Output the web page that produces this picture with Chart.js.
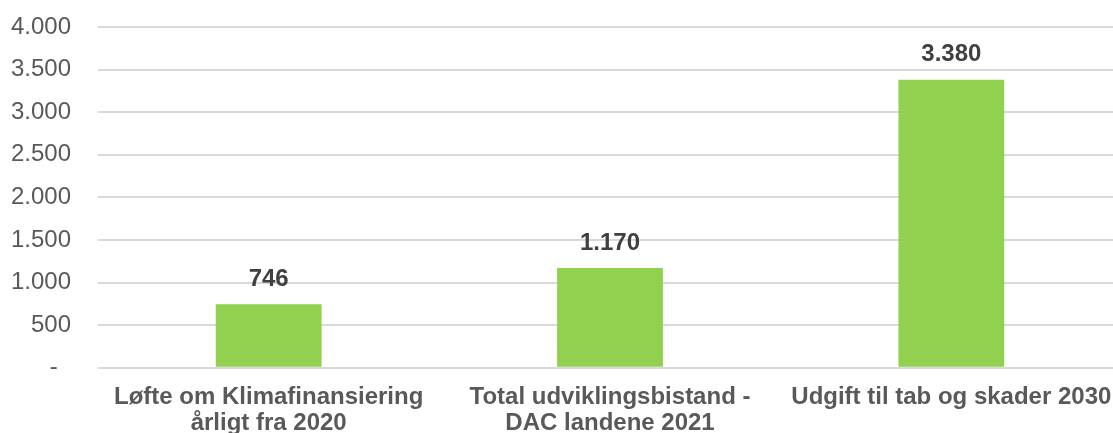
<!DOCTYPE html>
<html>
<head>
<meta charset="utf-8">
<script src="https://cdn.jsdelivr.net/npm/chart.js@4"></script>
<style>
html,body{margin:0;padding:0;background:#fff;overflow:hidden;}
#wrap{position:relative;width:1122px;height:433px;}
</style>
</head>
<body>
<div id="wrap"><canvas id="chart"></canvas></div>
<script>
// categories and values (mio. USD)
var categories = [
    ['Løfte om Klimafinansiering', 'årligt fra 2020'],
    ['Total udviklingsbistand -', 'DAC landene 2021'],
    'Udgift til tab og skader 2030'
];
var values = [746, 1170, 3380];
var valueLabels = ['746', '1.170', '3.380'];
var tickValues = [0, 500, 1000, 1500, 2000, 2500, 3000, 3500, 4000];
var tickLabels = ['-  ', '500', '1.000', '1.500', '2.000', '2.500', '3.000', '3.500', '4.000'];

var fontFamily = '"Liberation Sans", Arial, sans-serif';

// draws the numbers above the bars
var barLabels = {
    id: 'barLabels',
    afterDatasetsDraw: function(chart){
        var ctx = chart.ctx;
        var meta = chart.getDatasetMeta(0);
        ctx.save();
        ctx.font = 'bold 24px ' + fontFamily;
        ctx.fillStyle = '#404040';
        ctx.textAlign = 'center';
        ctx.textBaseline = 'middle';
        meta.data.forEach(function(bar, i){
            ctx.fillText(valueLabels[i], bar.x, bar.y - 25);
        });
        ctx.restore();
    }
};

new Chart(document.getElementById('chart'), {
    type: 'bar',
    data: {
        labels: categories,
        datasets: [{
            data: values,
            backgroundColor: '#92d050',
            borderWidth: 0,
            barPercentage: 1,
            categoryPercentage: 0.31
        }]
    },
    options: {
        responsive: true,
        maintainAspectRatio: false,
        animation: false,
        layout: {padding: {top: 27, right: 0, left: 0, bottom: 0}},
        plugins: {legend: {display: false}, tooltip: {enabled: false}},
        scales: {
            x: {
                grid: {display: false, drawTicks: false},
                border: {display: false},
                afterFit: function(scale){
                    scale.height = 65.3;
                    scale.paddingLeft = 0;
                    scale.paddingRight = 0;
                },
                ticks: {
                    autoSkip: false,
                    maxRotation: 0,
                    padding: 16,
                    color: '#595959',
                    font: {family: fontFamily, size: 24, weight: 'bold', lineHeight: 1.1}
                }
            },
            y: {
                min: 0,
                max: 4000,
                afterFit: function(scale){
                    scale.width = 98;
                    scale.paddingTop = 0;
                    scale.paddingBottom = 0;
                },
                afterBuildTicks: function(scale){
                    scale.ticks = tickValues.map(function(v){ return {value: v}; });
                },
                grid: {color: '#d9d9d9', lineWidth: 2, drawTicks: false},
                border: {display: false},
                ticks: {
                    padding: 27,
                    color: '#595959',
                    font: {family: fontFamily, size: 24},
                    callback: function(v){
                        var i = tickValues.indexOf(v);
                        return i >= 0 ? tickLabels[i] : '';
                    }
                }
            }
        }
    },
    plugins: [barLabels]
});
</script>
</body>
</html>
